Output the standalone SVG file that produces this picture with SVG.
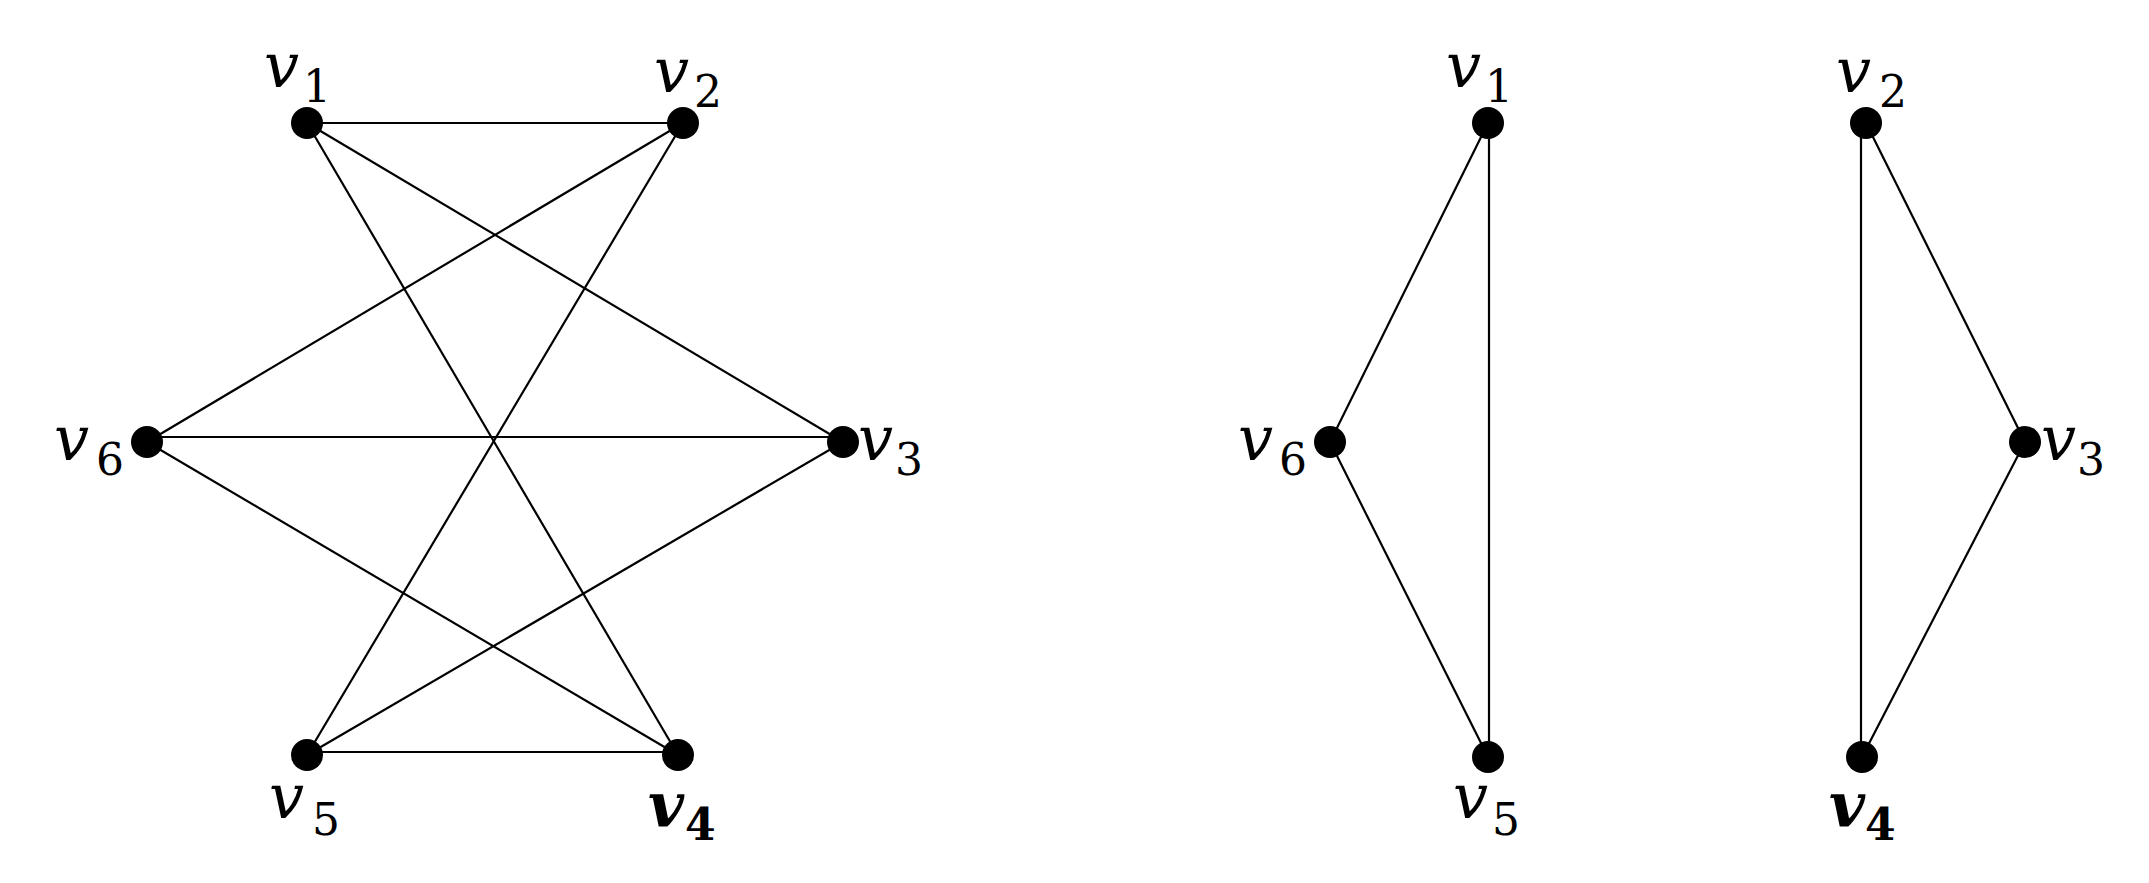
<svg xmlns="http://www.w3.org/2000/svg" width="2149" height="883" viewBox="0 0 2149 883">
<style>
.e{stroke:#000;stroke-width:2.2;fill:none}
.d{fill:#000}
.v{font-family:"DejaVu Serif",serif;font-style:italic;font-size:62px;fill:#000}
.s{font-family:"DejaVu Serif",serif;font-size:44px;fill:#000}
.b{font-weight:bold}
</style>
<rect width="2149" height="883" fill="#fff"/>
<g id="connectors">
<line class="e" x1="307" y1="123" x2="683" y2="123"/>
<line class="e" x1="307" y1="123" x2="843" y2="442"/>
<line class="e" x1="307" y1="123" x2="678" y2="755"/>
<line class="e" x1="683" y1="123" x2="147" y2="442"/>
<line class="e" x1="683" y1="123" x2="307" y2="755"/>
<line class="e" x1="147" y1="437" x2="843" y2="437"/>
<line class="e" x1="147" y1="442" x2="678" y2="755"/>
<line class="e" x1="843" y1="442" x2="307" y2="755"/>
<line class="e" x1="307" y1="752" x2="678" y2="752"/>
<line class="e" x1="1488" y1="123" x2="1330" y2="442"/>
<line class="e" x1="1489" y1="123" x2="1489" y2="757"/>
<line class="e" x1="1330" y1="442" x2="1488" y2="757"/>
<line class="e" x1="1861" y1="123" x2="1861" y2="757"/>
<line class="e" x1="1866" y1="123" x2="2025" y2="442"/>
<line class="e" x1="2025" y1="442" x2="1862" y2="757"/>
</g>
<g id="L-v1"><circle class="d" cx="307" cy="123" r="16"/><text class="v" x="264" y="87">v</text><text class="s" x="303" y="102">1</text></g>
<g id="L-v2"><circle class="d" cx="683" cy="123" r="16"/><text class="v" x="654" y="92">v</text><text class="s" x="694" y="107">2</text></g>
<g id="L-v3"><circle class="d" cx="843" cy="442" r="16"/><text class="v" x="858" y="460">v</text><text class="s" x="895" y="475">3</text></g>
<g id="L-v4"><circle class="d" cx="678" cy="755" r="16"/><text class="v b" x="648" y="826">v</text><text class="s b" x="685" y="840">4</text></g>
<g id="L-v5"><circle class="d" cx="307" cy="755" r="16"/><text class="v" x="269" y="818">v</text><text class="s" x="312" y="835">5</text></g>
<g id="L-v6"><circle class="d" cx="147" cy="442" r="16"/><text class="v" x="54" y="460">v</text><text class="s" x="96" y="475">6</text></g>
<g id="R-v1"><circle class="d" cx="1488" cy="123" r="16"/><text class="v" x="1446" y="87">v</text><text class="s" x="1485" y="102">1</text></g>
<g id="R-v2"><circle class="d" cx="1866" cy="123" r="16"/><text class="v" x="1836" y="92">v</text><text class="s" x="1879" y="107">2</text></g>
<g id="R-v3"><circle class="d" cx="2025" cy="442" r="16"/><text class="v" x="2041" y="460">v</text><text class="s" x="2077" y="475">3</text></g>
<g id="R-v4"><circle class="d" cx="1862" cy="757" r="16"/><text class="v b" x="1829" y="826">v</text><text class="s b" x="1865" y="840">4</text></g>
<g id="R-v5"><circle class="d" cx="1488" cy="757" r="16"/><text class="v" x="1453" y="818">v</text><text class="s" x="1492" y="835">5</text></g>
<g id="R-v6"><circle class="d" cx="1330" cy="442" r="16"/><text class="v" x="1238" y="460">v</text><text class="s" x="1279" y="475">6</text></g>
</svg>
